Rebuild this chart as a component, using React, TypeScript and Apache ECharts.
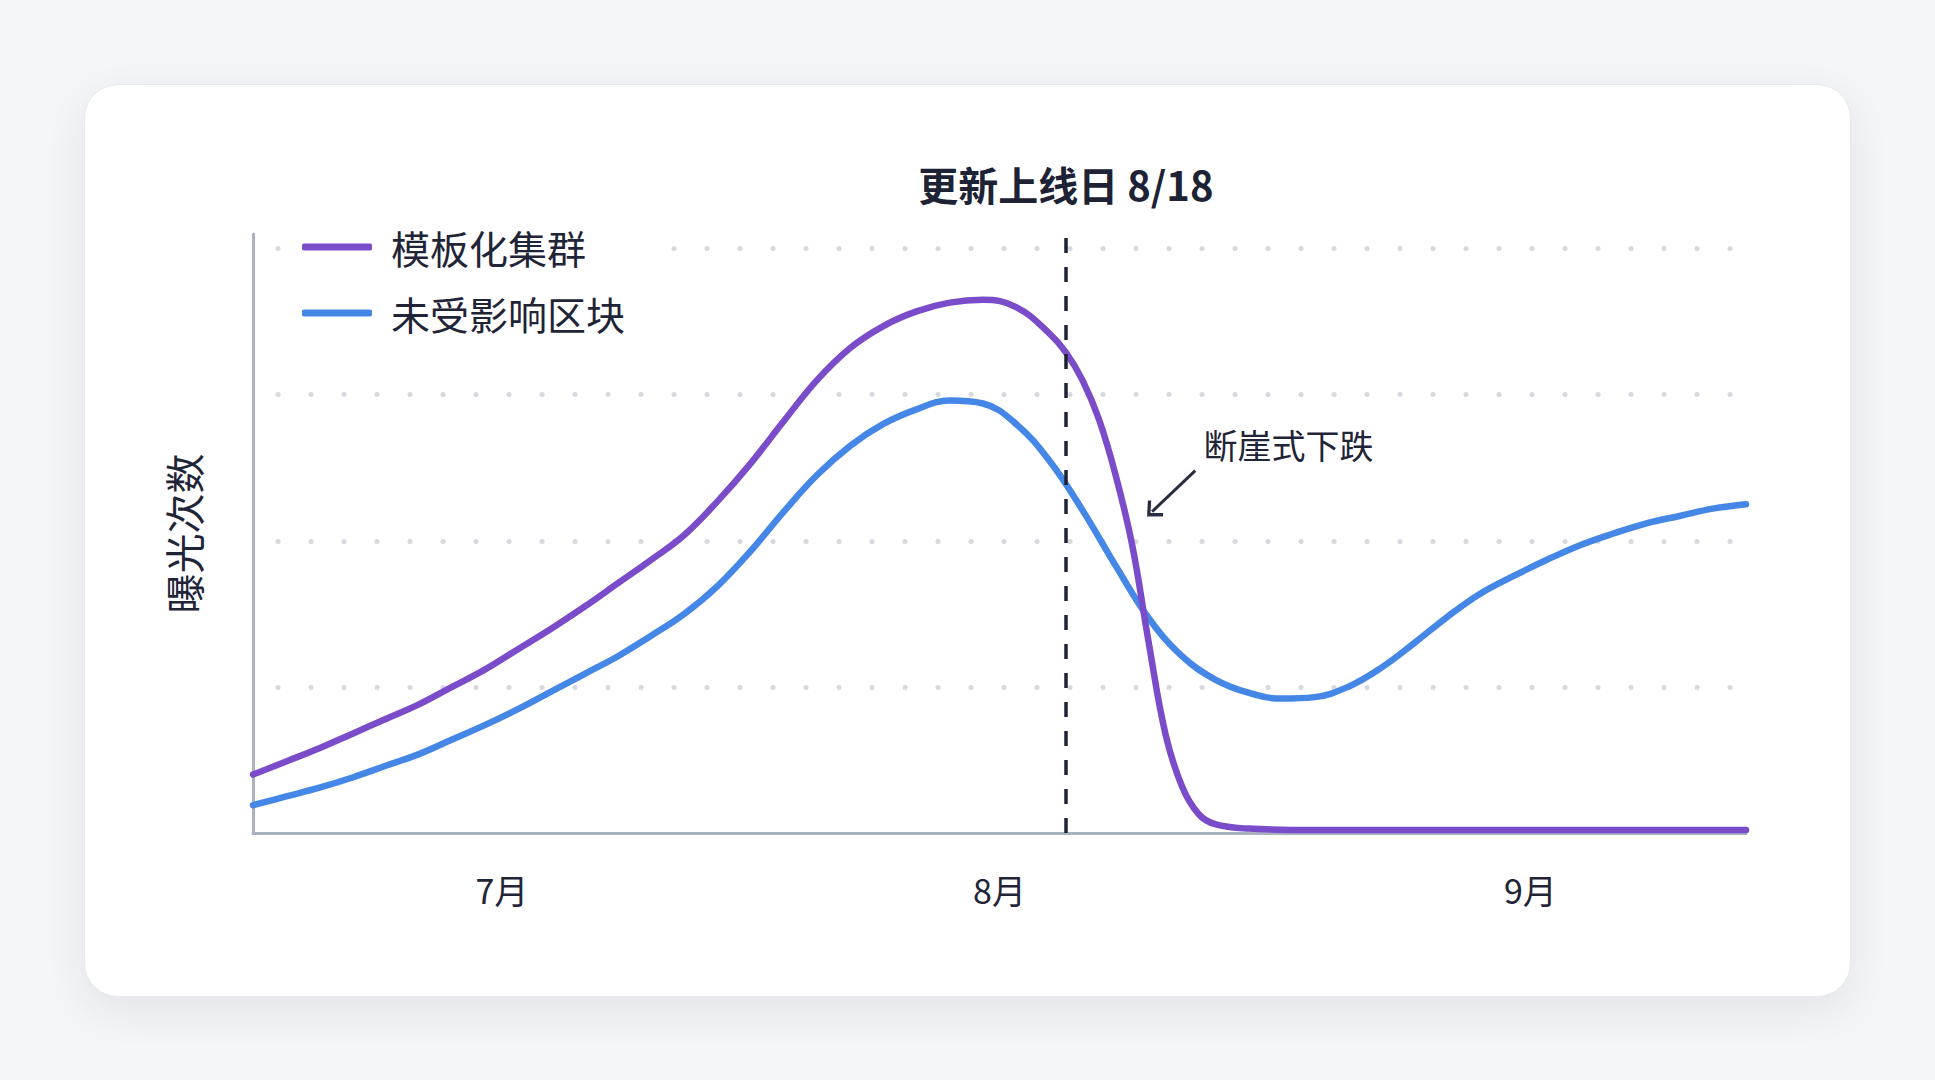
import { useEffect, useRef } from 'react';
import * as echarts from 'echarts';

// 横轴：以 6/30 为第 0 天的天数
const templateDays = [
  0, 2, 4, 6, 8, 10, 12, 14, 16, 18, 20, 22, 24, 26, 28, 30, 32, 34, 36, 38, 40, 42, 44, 46, 48,
  49, 50, 51, 52, 53, 54, 55, 56, 57, 58, 60, 64, 70, 80, 90,
];
const templateCluster = [
  0.4, 0.49, 0.58, 0.68, 0.78, 0.88, 1.0, 1.12, 1.26, 1.4, 1.55, 1.71, 1.87, 2.04, 2.27, 2.53,
  2.82, 3.1, 3.32, 3.47, 3.57, 3.63, 3.65, 3.6, 3.42, 3.29, 3.1, 2.83, 2.45, 1.97, 1.3, 0.68,
  0.32, 0.13, 0.06, 0.03, 0.02, 0.02, 0.02, 0.02,
];

const unaffectedDays = [
  0, 2, 4, 6, 8, 10, 12, 14, 16, 18, 20, 22, 24, 26, 28, 30, 32, 34, 36, 38, 40, 42, 44, 46, 48,
  50, 52, 54, 56, 58, 60, 62, 64, 66, 68, 70, 72, 74, 76, 78, 80, 82, 84, 86, 88, 90,
];
const unaffectedBlocks = [
  0.19, 0.25, 0.31, 0.38, 0.46, 0.54, 0.64, 0.74, 0.85, 0.97, 1.09, 1.21, 1.35, 1.5, 1.69, 1.93,
  2.2, 2.45, 2.65, 2.8, 2.9, 2.96, 2.94, 2.8, 2.55, 2.21, 1.83, 1.47, 1.21, 1.05, 0.96, 0.92, 0.93,
  1.0, 1.13, 1.3, 1.48, 1.64, 1.76, 1.87, 1.97, 2.05, 2.12, 2.17, 2.22, 2.25,
];

const seriesNames = ['模板化集群', '未受影响区块'];
const monthTicks = [15, 45, 77];
const monthLabels = ['7月', '8月', '9月'];
const gridLevels = [1, 2, 3, 4];

const releaseDay = 49;
const releaseLabel = '更新上线日 8/18';
const dropLabel = '断崖式下跌';
const dropLabelAt = [57.3, 2.66];
const arrowFrom = [56.8, 2.48];
const arrowTo = [54.2, 2.2];

const FONT = "'Noto Sans CJK SC', 'Noto Sans', sans-serif";
const INK = '#1f2437';
const AXIS = '#aab2c2';
const PURPLE = '#7b4cc9';
const BLUE = '#4587e6';

const ExposureChart: React.FC = () => {
  const chartRef = useRef<HTMLDivElement>(null);

  useEffect(() => {
    if (!chartRef.current) return;
    const chart = echarts.init(chartRef.current, undefined, { renderer: 'svg' });

    const toPairs = (xs: number[], ys: number[]) => xs.map((d, i) => [d, ys[i]]);

    const option: echarts.EChartsOption = {
      animation: false,
      textStyle: { fontFamily: FONT },
      grid: { left: 253, right: 189, top: 234, bottom: 247 },
      legend: {
        data: seriesNames,
        orient: 'vertical',
        left: 292,
        top: 221,
        icon: 'roundRect',
        itemWidth: 70,
        itemHeight: 7,
        itemGap: 26,
        padding: [6, 28, 6, 10],
        backgroundColor: '#ffffff',
        textStyle: { fontSize: 39, color: INK, lineHeight: 40, padding: [0, 0, 0, 14], fontFamily: FONT },
      },
      xAxis: {
        type: 'value',
        min: 0,
        max: 90,
        axisLine: { show: true, lineStyle: { color: AXIS, width: 3, cap: 'round' } },
        axisTick: { show: false },
        splitLine: { show: false },
        axisLabel: {
          customValues: monthTicks,
          formatter: (v: number) => monthLabels[monthTicks.indexOf(v)] ?? '',
          fontSize: 34,
          color: INK,
          margin: 39,
          fontFamily: FONT,
        },
      },
      yAxis: {
        type: 'value',
        min: 0,
        max: 4.1,
        name: '曝光次数',
        nameLocation: 'middle',
        nameRotate: 90,
        nameGap: 50,
        nameTextStyle: { fontSize: 40, color: INK, fontFamily: FONT },
        axisLine: { show: true, lineStyle: { color: AXIS, width: 3, cap: 'round' } },
        axisTick: { show: false },
        axisLabel: { show: false },
        splitLine: { show: false },
      },
      series: [
        {
          name: 'grid-dots',
          type: 'line',
          data: [],
          z: 1,
          markLine: {
            silent: true,
            z: 1,
            symbol: 'none',
            label: { show: false },
            lineStyle: { color: '#d6d9e0', width: 5, type: [0.1, 32.9], dashOffset: -25, cap: 'round' },
            data: gridLevels.map((v) => ({ yAxis: v })),
          },
        },
        {
          name: seriesNames[1],
          type: 'line',
          data: toPairs(unaffectedDays, unaffectedBlocks),
          smooth: 0.4,
          showSymbol: false,
          symbol: 'none',
          color: BLUE,
          lineStyle: { width: 6.5, color: BLUE, cap: 'round', join: 'round' },
          z: 3,
        },
        {
          name: seriesNames[0],
          type: 'line',
          data: toPairs(templateDays, templateCluster),
          smooth: 0.4,
          showSymbol: false,
          symbol: 'none',
          color: PURPLE,
          lineStyle: { width: 6.5, color: PURPLE, cap: 'round', join: 'round' },
          z: 4,
        },
        {
          name: 'annotations',
          type: 'line',
          data: [],
          z: 5,
          markLine: {
            silent: true,
            symbol: 'none',
            lineStyle: { color: '#1e2235', width: 3.5, type: [15, 14] },
            label: {
              show: true,
              position: 'end',
              formatter: releaseLabel,
              fontSize: 40,
              fontWeight: 'bold',
              color: '#1e2235',
              distance: 30,
              fontFamily: FONT,
            },
            data: [
              { xAxis: releaseDay },
              [
                {
                  coord: arrowFrom,
                  symbol: 'none',
                  lineStyle: { type: 'solid', width: 3, color: '#2a2e45' },
                  label: { show: false },
                },
                {
                  coord: arrowTo,
                  symbol: 'path://M0,0 L12,12 L9.5,14.5 L0,5 L-9.5,14.5 L-12,12 Z',
                  symbolSize: [22, 14],
                },
              ],
            ] as any,
          },
          markPoint: {
            silent: true,
            data: [
              {
                coord: dropLabelAt,
                symbol: 'circle',
                symbolSize: 0,
                label: {
                  show: true,
                  position: 'right',
                  distance: 0,
                  formatter: dropLabel,
                  fontSize: 34,
                  color: INK,
                  fontFamily: FONT,
                },
              },
            ],
          },
        },
      ],
    };

    chart.setOption(option);

    const handleResize = () => chart.resize();
    window.addEventListener('resize', handleResize);
    return () => {
      window.removeEventListener('resize', handleResize);
      chart.dispose();
    };
  }, []);

  return <div ref={chartRef} style={{ position: 'absolute', left: 0, top: 0, width: '100%', height: '100%' }} />;
};

export default function App() {
  return (
    <div style={{ position: 'fixed', inset: 0, background: '#f4f5f8' }}>
      <div
        style={{
          position: 'absolute',
          left: 84,
          top: 84,
          width: 1767,
          height: 913,
          boxSizing: 'border-box',
          borderRadius: 34,
          background: '#ffffff',
          border: '1.5px solid #e7e9ee',
          boxShadow: '0 14px 40px rgba(30, 40, 70, 0.08)',
        }}
      />
      <ExposureChart />
    </div>
  );
}
